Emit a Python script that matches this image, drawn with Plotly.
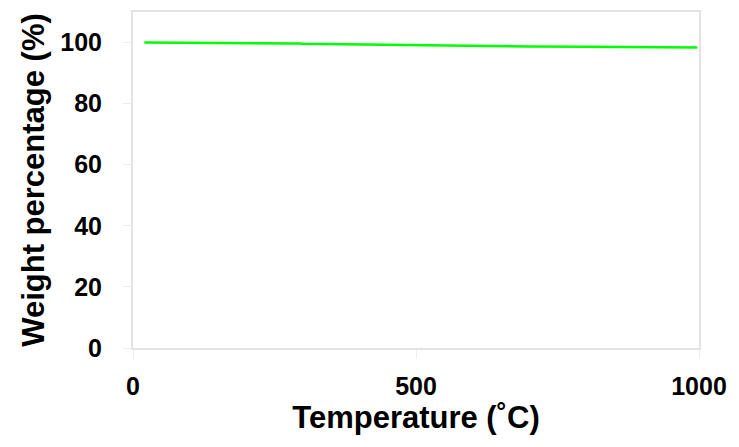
import plotly.graph_objects as go

temperature = [20, 100, 200, 280, 295, 300, 400, 500, 600, 700, 800, 900, 997]
weight_pct = [99.98, 99.96, 99.88, 99.76, 99.72, 99.62, 99.35, 99.05, 98.85, 98.7, 98.6, 98.5, 98.35]

x_ticks = [0, 500, 1000]
y_ticks = [0, 20, 40, 60, 80, 100]

fig = go.Figure()
fig.add_trace(go.Scatter(x=temperature, y=weight_pct, mode="lines",
                         line=dict(color="#00ff00", width=2.5), showlegend=False))

font = "Liberation Sans, Arial, sans-serif"
fig.update_layout(
    width=739, height=447,
    margin=dict(l=133, r=40, t=10, b=99),
    plot_bgcolor="white", paper_bgcolor="white",
    font=dict(family=font, color="black"),
)
fig.update_xaxes(
    range=[0, 1000], tickvals=x_ticks, ticktext=[str(v) for v in x_ticks],
    showgrid=False, zeroline=False,
    showline=True, linecolor="#e3e3e3", linewidth=2, mirror=True,
    ticks="outside", ticklen=9, tickcolor="#ececec", tickwidth=1,
    ticklabelstandoff=6,
    tickfont=dict(size=25, family=font, weight="bold"),
    title=dict(text="<b>Temperature (˚C)</b>", font=dict(size=31, family=font), standoff=0),
)
fig.update_yaxes(
    range=[0, 110], tickvals=y_ticks, ticktext=[str(v) for v in y_ticks],
    showgrid=False, zeroline=False,
    showline=True, linecolor="#e3e3e3", linewidth=2, mirror=True,
    ticks="outside", ticklen=8, tickcolor="#ececec", tickwidth=1,
    ticklabelstandoff=16,
    tickfont=dict(size=25, family=font, weight="bold"),
    title=dict(text="<b>Weight percentage (%)</b>", font=dict(size=31, family=font), standoff=6),
)
fig.write_html("out.html")
